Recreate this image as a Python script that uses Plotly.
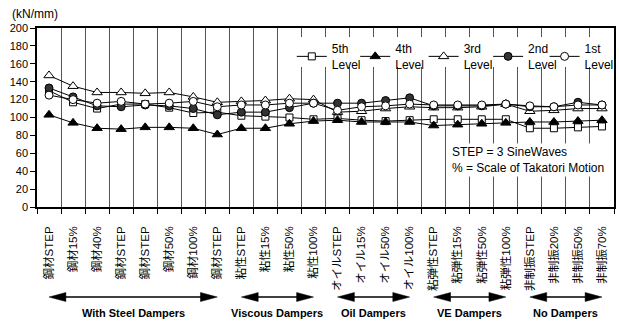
import plotly.graph_objects as go

categories = ["鋼材STEP", "鋼材15%", "鋼材40%", "鋼材STEP", "鋼材STEP", "鋼材50%", "鋼材100%", "鋼材STEP",
              "粘性STEP", "粘性15%", "粘性50%", "粘性100%",
              "オイルSTEP", "オイル15%", "オイル50%", "オイル100%",
              "粘弾性STEP", "粘弾性15%", "粘弾性50%", "粘弾性100%",
              "非制振STEP", "非制振20%", "非制振50%", "非制振70%"]

level5 = [130, 117, 110, 115, 115, 111, 105, 106, 102, 101, 100, 98, 99, 97, 96, 97, 98, 98, 98, 98, 88, 88, 89, 90]
level4 = [103, 94, 88, 87, 89, 89, 88, 81, 88, 88, 93, 96, 97, 95, 95, 95, 91, 92, 93, 94, 95, 95, 96, 97]
level3 = [147, 135, 128, 128, 127, 128, 123, 117, 118, 119, 121, 120, 106, 107, 110, 112, 111, 111, 112, 115, 107, 108, 110, 110]
level2 = [133, 123, 113, 112, 114, 113, 110, 103, 106, 106, 111, 116, 116, 116, 119, 122, 113, 113, 113, 115, 112, 112, 117, 114]
level1 = [125, 120, 116, 118, 115, 116, 118, 112, 114, 114, 116, 116, 108, 112, 113, 115, 114, 114, 114, 115, 113, 112, 114, 114]

series_names = ["5th<br>Level", "4th<br>Level", "3rd<br>Level", "2nd<br>Level", "1st<br>Level"]
series_values = [level5, level4, level3, level2, level1]
series_symbols = ["square", "triangle-up", "triangle-up", "circle", "circle"]
series_fill = ["white", "black", "white", "#333333", "white"]
series_sizes = [7, 9, 9, 8, 8]
legend_x = [0.4416, 0.5515, 0.6701, 0.7818, 0.8797]

groups = ["With Steel Dampers", "Viscous Dampers", "Oil Dampers", "VE Dampers", "No Dampers"]
group_first = [0, 8, 12, 16, 20]
group_last = [7, 11, 15, 19, 23]

note_lines = ["STEP = 3 SineWaves", "% = Scale of Takatori Motion"]
y_title = "(kN/mm)"

ARIAL = "Liberation Sans, Arial, Noto Sans CJK JP, sans-serif"

x = list(range(len(categories)))
n = len(categories)
fig = go.Figure()
legend_layout = {}
for k, (name, vals, sym, fill, sz, lx) in enumerate(zip(series_names, series_values, series_symbols,
                                                         series_fill, series_sizes, legend_x)):
    lname = "legend" if k == 0 else f"legend{k + 1}"
    fig.add_trace(go.Scatter(
        x=x, y=vals, name=name, mode="lines+markers", legend=lname,
        line=dict(color="black", width=1),
        marker=dict(symbol=sym, size=sz, color=fill, line=dict(color="black", width=1)),
    ))
    legend_layout[lname] = dict(x=lx, xanchor="left", y=0.965, yanchor="top",
                                bgcolor="rgba(0,0,0,0)", font=dict(family=ARIAL, size=12, color="black"),
                                itemclick=False, itemdoubleclick=False)

fig.update_layout(
    width=619, height=324,
    margin=dict(l=37, r=0, t=28, b=117),
    paper_bgcolor="white", plot_bgcolor="white",
    showlegend=True,
    font=dict(family=ARIAL, color="black"),
    **legend_layout,
)
fig.update_xaxes(
    range=[-0.5, n - 0.5], tickmode="array", tickvals=x, ticktext=categories,
    tickangle=-90, ticks="", showgrid=False, zeroline=False,
    showline=True, linecolor="black", linewidth=1.5, mirror=True,
    ticklabelstandoff=13,
    tickfont=dict(family=ARIAL, size=11.5, color="black"),
    minor=dict(tick0=-0.5, dtick=1, ticks="outside", ticklen=5, tickcolor="black",
               showgrid=True, gridcolor="#555555", gridwidth=1),
)
fig.update_yaxes(
    range=[0, 200], dtick=20, ticks="outside", ticklen=5, tickcolor="black",
    showgrid=False, zeroline=False, showline=True, linecolor="black", linewidth=1.5, mirror=True,
    tickfont=dict(family=ARIAL, size=11, color="black"),
)

# white backing behind the legend row (hides grid lines there)
fig.add_shape(type="rect", xref="paper", yref="paper", x0=0.4485, x1=0.998, y0=0.782, y1=0.95,
              fillcolor="white", line=dict(width=0), layer="above")

# y unit label
fig.add_annotation(text=y_title, xref="paper", yref="paper", x=-0.0464, y=1.081,
                   xanchor="left", yanchor="middle", showarrow=False,
                   font=dict(family=ARIAL, size=12, color="black"))

# note box
fig.add_annotation(text="<br>".join(note_lines), xref="paper", yref="paper",
                   x=0.7165, y=0.36, xanchor="left", yanchor="top", align="left",
                   showarrow=False, bgcolor="white",
                   font=dict(family=ARIAL, size=12, color="black"))

# group arrows and labels (paper coords derived from category indices)
head_len = 17 / 582.0
head_half = 4.5 / 179.0
y_arrow = -0.503
y_label = -0.592
for g, i0, i1 in zip(groups, group_first, group_last):
    xa = (i0 + 0.5) / n
    xb = (i1 + 0.5) / n
    fig.add_shape(type="line", xref="paper", yref="paper", x0=xa + head_len * 0.5, x1=xb - head_len * 0.5,
                  y0=y_arrow, y1=y_arrow, line=dict(color="black", width=1.5))
    fig.add_shape(type="path", xref="paper", yref="paper",
                  path=f"M{xa},{y_arrow} L{xa + head_len},{y_arrow + head_half} L{xa + head_len},{y_arrow - head_half} Z",
                  fillcolor="black", line=dict(color="black", width=0.5))
    fig.add_shape(type="path", xref="paper", yref="paper",
                  path=f"M{xb},{y_arrow} L{xb - head_len},{y_arrow + head_half} L{xb - head_len},{y_arrow - head_half} Z",
                  fillcolor="black", line=dict(color="black", width=0.5))
    fig.add_annotation(text=f"<b>{g}</b>", xref="paper", yref="paper", x=(xa + xb) / 2, y=y_label,
                       xanchor="center", yanchor="middle", showarrow=False,
                       font=dict(family=ARIAL, size=11, color="black"))

fig.write_html("out.html", config={"displayModeBar": False},
               post_script="document.body.style.margin='0';document.body.style.overflow='hidden';")
